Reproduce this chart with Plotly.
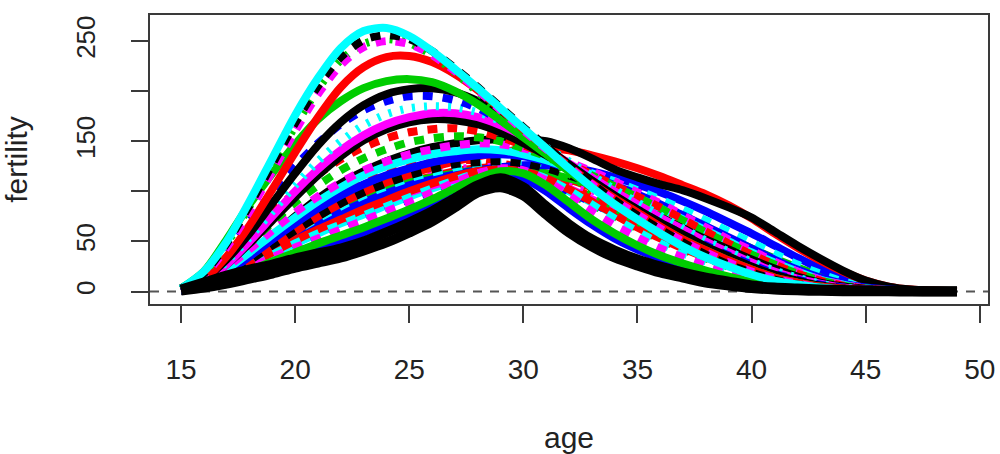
import plotly.graph_objects as go

ages = [15, 16, 17, 18, 19, 20, 21, 22, 23, 24, 25, 26, 27, 28, 29, 30, 31, 32,
        33, 34, 35, 36, 37, 38, 39, 40, 41, 42, 43, 44, 45, 46, 47, 48, 49]

c01 = [3, 20, 50, 90, 133, 176, 213, 243, 260, 263, 255, 240, 222, 203, 183, 163, 143, 123,
       104, 87, 72, 58, 45, 34, 25, 17, 11, 7, 4, 2, 1, 0.5, 0.3, 0.2, 0.1]
c02 = [3, 18, 48, 86, 127, 168, 205, 234, 251, 256, 252, 240, 223, 204, 184, 164, 145, 126,
       108, 91, 76, 62, 49, 37, 27, 19, 12, 7, 4, 2, 1, 0.5, 0.3, 0.2, 0.1]
c03 = [3, 16, 44, 80, 120, 160, 197, 226, 244, 250, 247, 236, 220, 201, 181, 161, 142, 124,
       107, 91, 77, 63, 50, 39, 29, 20, 13, 8, 4, 2, 1, 0.5, 0.3, 0.2, 0.1]
c04 = [3, 19, 48, 85, 125, 165, 202, 231, 247, 252, 248, 236, 219, 199, 178, 157, 137, 118,
       100, 84, 70, 57, 45, 34, 25, 17, 11, 7, 4, 2, 1, 0.5, 0.3, 0.2, 0.1]
c05 = [2, 12, 35, 66, 102, 139, 174, 204, 224, 234, 235, 229, 217, 201, 182, 162, 143, 125,
       108, 93, 79, 65, 52, 41, 31, 22, 14, 9, 5, 3, 1.5, 0.7, 0.4, 0.2, 0.1]
c06 = [3, 20, 52, 87, 118, 147, 172, 190, 203, 210, 212, 209, 200, 187, 171, 154, 137, 120,
       104, 90, 77, 64, 52, 41, 31, 22, 14, 9, 5, 2.5, 1.2, 0.6, 0.3, 0.2, 0.1]
c07 = [2, 12, 32, 58, 88, 118, 146, 169, 186, 197, 202, 203, 199, 190, 177, 161, 144, 127,
       111, 96, 82, 69, 57, 45, 35, 25, 17, 11, 6, 3, 1.5, 0.7, 0.4, 0.2, 0.1]
c08 = [2, 15, 40, 70, 99, 125, 148, 167, 181, 190, 195, 195, 191, 183, 171, 156, 140, 124,
       109, 95, 82, 69, 57, 46, 36, 27, 18, 12, 7, 4, 2, 1, 0.5, 0.2, 0.1]
c09 = [2, 11, 30, 54, 80, 106, 130, 150, 166, 177, 183, 185, 184, 179, 170, 158, 144, 130,
       116, 102, 89, 76, 63, 51, 40, 30, 21, 14, 8, 4, 2, 1, 0.5, 0.2, 0.1]
c10 = [2, 10, 27, 50, 75, 100, 122, 141, 156, 167, 174, 178, 178, 174, 166, 155, 142, 128,
       114, 100, 87, 74, 62, 50, 39, 29, 20, 13, 8, 4, 2, 1, 0.5, 0.2, 0.1]
c11 = [2, 10, 27, 48, 71, 94, 116, 135, 151, 162, 169, 172, 171, 167, 159, 148, 136, 123,
       110, 98, 86, 74, 63, 52, 42, 32, 23, 15, 9, 5, 2.5, 1.2, 0.6, 0.3, 0.1]
c12 = [2, 12, 32, 55, 78, 99, 117, 132, 144, 153, 159, 162, 163, 160, 154, 146, 137, 127,
       117, 106, 95, 84, 72, 60, 48, 37, 27, 18, 11, 6, 3, 1.5, 0.7, 0.3, 0.1]
c13 = [2, 11, 28, 48, 69, 89, 106, 121, 133, 142, 149, 153, 155, 154, 150, 143, 135, 126,
       116, 105, 94, 83, 71, 59, 48, 37, 27, 18, 11, 6, 3, 1.5, 0.7, 0.3, 0.1]
c14 = [1, 9, 24, 42, 61, 79, 95, 109, 121, 130, 137, 142, 146, 148, 147, 143, 137, 129,
       120, 110, 99, 88, 76, 64, 52, 41, 30, 20, 12, 7, 3, 1.5, 0.7, 0.3, 0.1]
c15 = [1, 8, 22, 39, 57, 74, 90, 104, 116, 125, 132, 137, 140, 142, 141, 137, 131, 123,
       114, 104, 94, 83, 72, 61, 50, 39, 29, 20, 12, 7, 3, 1.5, 0.7, 0.3, 0.1]
c16 = [1, 7, 19, 35, 52, 68, 83, 96, 107, 116, 123, 129, 133, 136, 137, 135, 130, 123,
       115, 106, 97, 87, 76, 65, 54, 43, 32, 22, 14, 8, 4, 2, 1, 0.4, 0.1]
c17 = [1, 6, 17, 31, 46, 61, 75, 88, 99, 108, 116, 122, 127, 129, 130, 128, 123, 116,
       108, 99, 89, 79, 68, 57, 46, 36, 26, 18, 11, 6, 3, 1.5, 0.7, 0.3, 0.1]
c18 = [1, 6, 18, 35, 55, 75, 93, 108, 120, 130, 138, 144, 148, 151, 152, 152, 150, 143,
       133, 122, 114, 107, 101, 93, 84, 74, 60, 46, 33, 21, 11, 5, 2, 1, 0.3]
c19 = [1, 5, 14, 28, 44, 60, 75, 88, 99, 109, 117, 124, 130, 135, 139, 142, 143, 141,
       136, 130, 123, 115, 106, 97, 86, 73, 58, 44, 31, 20, 11, 5, 2, 1, 0.3]
c20 = [1, 6, 16, 30, 45, 60, 73, 85, 96, 105, 113, 119, 124, 128, 130, 130, 128, 124,
       118, 110, 101, 92, 82, 71, 60, 49, 38, 27, 18, 10, 5, 2, 1, 0.5, 0.2]
c21 = [1, 5, 14, 26, 40, 54, 67, 79, 89, 98, 106, 112, 117, 121, 124, 126, 126, 124,
       120, 114, 107, 99, 90, 80, 69, 58, 46, 34, 23, 13, 7, 3, 1.5, 0.6, 0.2]
c22 = [1, 6, 17, 31, 46, 60, 73, 84, 94, 102, 109, 114, 118, 121, 122, 121, 118, 113,
       107, 100, 92, 83, 73, 63, 53, 43, 33, 24, 16, 9, 5, 2, 1, 0.5, 0.2]
c23 = [1, 7, 19, 34, 50, 65, 78, 90, 100, 108, 114, 119, 122, 124, 124, 121, 116, 109,
       101, 92, 83, 73, 63, 53, 44, 35, 26, 18, 11, 6, 3, 1.5, 0.7, 0.3, 0.1]
c24 = [1, 8, 22, 40, 58, 75, 89, 101, 111, 119, 125, 129, 131, 131, 128, 123, 116, 106,
       94, 82, 70, 59, 49, 40, 32, 25, 18, 12, 7, 4, 2, 1, 0.5, 0.2, 0.1]
c25 = [1, 5, 15, 28, 42, 56, 69, 81, 92, 101, 109, 115, 120, 123, 124, 122, 118, 112,
       104, 95, 85, 75, 65, 55, 45, 36, 27, 19, 12, 7, 3, 1.5, 0.7, 0.3, 0.1]
c26 = [1, 5, 13, 24, 35, 46, 56, 66, 75, 84, 92, 100, 107, 112, 115, 114, 109, 100,
       89, 77, 65, 54, 44, 35, 27, 20, 14, 9, 5, 3, 1.5, 0.7, 0.3, 0.2, 0.1]
c27 = [1, 6, 16, 28, 40, 52, 63, 73, 82, 91, 99, 106, 112, 117, 120, 118, 112, 103,
       92, 80, 68, 57, 47, 38, 30, 23, 16, 11, 7, 4, 2, 1, 0.5, 0.2, 0.1]
c28 = [1, 7, 18, 31, 44, 56, 67, 77, 86, 95, 103, 110, 115, 118, 118, 115, 108, 98,
       87, 75, 63, 52, 42, 33, 25, 18, 13, 8, 5, 3, 1.5, 0.7, 0.3, 0.2, 0.1]
c29 = [1, 6, 15, 26, 37, 48, 58, 68, 77, 86, 95, 103, 110, 115, 117, 115, 109, 100,
       89, 77, 66, 55, 45, 36, 28, 21, 15, 10, 6, 3, 1.5, 0.7, 0.3, 0.2, 0.1]
d01 = [1, 5, 12, 21, 30, 39, 48, 56, 64, 73, 82, 92, 103, 113, 120, 118, 106, 89,
       72, 58, 46, 36, 28, 21, 15, 10, 7, 4, 3, 2, 1, 0.6, 0.4, 0.2, 0.1]
d02 = [1, 6, 14, 24, 34, 44, 53, 62, 71, 80, 89, 99, 109, 118, 123, 121, 111, 96,
       80, 66, 54, 43, 34, 26, 19, 13, 9, 6, 4, 2.5, 1.3, 0.7, 0.4, 0.2, 0.1]
d03 = [1, 5, 11, 19, 27, 35, 43, 51, 59, 68, 77, 87, 98, 109, 116, 113, 100, 83,
       67, 53, 42, 33, 25, 18, 13, 9, 6, 4, 2.5, 1.5, 1, 0.5, 0.3, 0.2, 0.1]
d04 = [1, 6, 15, 26, 37, 48, 58, 67, 76, 85, 94, 103, 111, 118, 121, 120, 113, 101,
       87, 73, 60, 48, 38, 30, 22, 16, 11, 7, 4, 2.5, 1.2, 0.6, 0.3, 0.2, 0.1]
d05 = [1, 6, 15, 27, 39, 51, 62, 72, 82, 91, 100, 108, 115, 120, 122, 120, 113, 102,
       90, 77, 64, 53, 43, 34, 26, 19, 13, 8, 5, 3, 1.5, 0.7, 0.3, 0.2, 0.1]
b01 = [2, 9, 16, 22, 27, 33, 38, 43, 50, 59, 69, 80, 93, 106, 113, 104, 85, 67,
       52, 41, 32, 25, 19, 14, 10, 6, 4, 3, 2, 1.5, 1, 0.7, 0.5, 0.3, 0.2]
b02 = [1, 4, 8, 13, 18, 24, 29, 34, 41, 49, 59, 70, 84, 99, 104, 96, 77, 59,
       45, 34, 26, 19, 14, 9, 6, 3.5, 2, 1.2, 0.7, 0.4, 0.3, 0.2, 0.1, 0.1, 0.1]

x_ticks = [15, 20, 25, 30, 35, 40, 45, 50]
y_ticks = [0, 50, 100, 150, 200, 250]
y_labels = ["0", "50", "", "150", "", "250"]

# drawing order (later on top)
curves = [c29, c28, c27, c26, c25, c24, c23, c22, c21, c20, c19, c18,
          d05, d04, d03, d02, d01,
          c17, c16, c15, c14, c13, c12, c11, c10, c09, c08, c07, c06,
          c05, c04, c03, c02, c01, b02, b01]

BLACK, RED, GREEN, BLUE, CYAN, MAGENTA = ("#000000", "#FF0000", "#00CD00",
                                          "#0000FF", "#00FFFF", "#FF00FF")
DASH = "10px,10px"
DOT = "3px,9px"
styles = [
    (CYAN, "solid"), (GREEN, DASH), (MAGENTA, "solid"), (BLUE, DASH), (RED, "solid"),
    (RED, DASH), (MAGENTA, DOT), (GREEN, "solid"), (BLUE, "solid"), (CYAN, DASH),
    (RED, "solid"), (BLACK, "solid"),
    (RED, "solid"), (CYAN, DASH), (BLUE, "solid"), (MAGENTA, DASH), (GREEN, "solid"),
    (BLACK, DASH), (BLUE, "solid"), (CYAN, "solid"), (MAGENTA, DASH), (GREEN, DASH),
    (RED, DASH), (BLACK, "solid"), (MAGENTA, "solid"), (CYAN, DOT), (BLUE, DASH),
    (BLACK, "solid"), (GREEN, "solid"), (RED, "solid"), (GREEN, DOT), (MAGENTA, DASH),
    (BLACK, DASH), (CYAN, "solid"), (BLACK, "solid"), (BLACK, "solid"),
]

fig = go.Figure()
for i, (vals, (col, dash)) in enumerate(zip(curves, styles)):
    w = 10 if i >= len(curves) - 2 else 8
    fig.add_trace(go.Scatter(x=ages, y=vals, mode="lines",
                             line=dict(color=col, width=w, dash=dash,
                                       shape="spline", smoothing=0.8),
                             showlegend=False, hoverinfo="skip"))

fig.add_shape(type="line", xref="paper", x0=0, x1=1, yref="y", y0=0, y1=0,
              line=dict(color="#555555", width=2, dash="9px,8px"), layer="below")

FONT = "Liberation Sans, Arial, sans-serif"
INK = "#222222"
LINE = "#3a3a3a"

fig.update_layout(
    width=1000, height=454,
    margin=dict(l=147, r=5, t=15, b=143),
    paper_bgcolor="white", plot_bgcolor="white",
    font=dict(family=FONT, size=26, color=INK),
    xaxis=dict(range=[13.64, 50.36], tickmode="array", tickvals=x_ticks,
               ticktext=[str(v) for v in x_ticks],
               tickfont=dict(family=FONT, size=28, color=INK),
               ticks="outside", ticklen=17, tickwidth=1.5, tickcolor=LINE,
               showline=True, linecolor=LINE, linewidth=1.5, mirror=True,
               showgrid=False, zeroline=False, ticklabelstandoff=23,
               ticklabeloverflow="allow",
               title=dict(text="age", standoff=43,
                          font=dict(family=FONT, size=30, color=INK))),
    yaxis=dict(range=[-12.4, 276.0], tickmode="array", tickvals=y_ticks,
               ticktext=y_labels, tickangle=-90,
               tickfont=dict(family=FONT, size=26, color=INK),
               ticks="outside", ticklen=17, tickwidth=1.5, tickcolor=LINE,
               showline=True, linecolor=LINE, linewidth=1.5, mirror=True,
               showgrid=False, zeroline=False, ticklabelstandoff=26,
               title=dict(text="fertility", standoff=45,
                          font=dict(family=FONT, size=30, color=INK))),
)

# remove the default 8px page margin so the figure fills the window exactly
fig.write_html("out.html", config={"displayModeBar": False},
               post_script="document.body.style.margin='0';")
